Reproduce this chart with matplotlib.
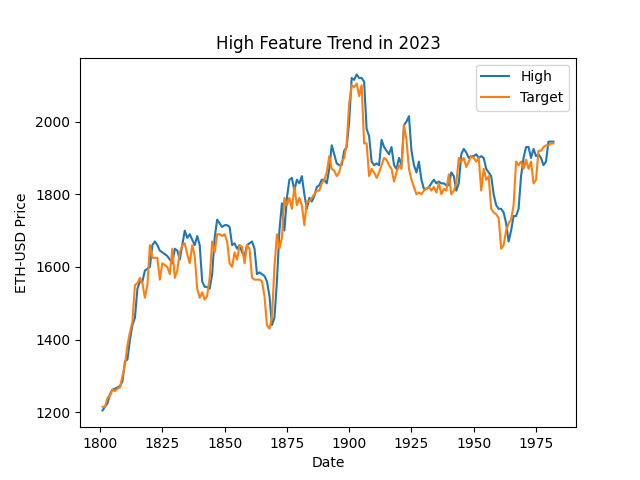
import matplotlib.pyplot as plt

start_idx = 1801

high = [1205, 1215, 1225, 1250, 1262, 1265, 1268, 1272, 1285, 1340,
        1345, 1400, 1440, 1460, 1540, 1560, 1560, 1590, 1595, 1600,
        1660, 1670, 1660, 1645, 1640, 1635, 1630, 1620, 1610, 1650,
        1645, 1620, 1660, 1700, 1680, 1690, 1675, 1660, 1685, 1660,
        1560, 1545, 1545, 1540, 1580, 1680, 1730, 1720, 1710, 1715,
        1715, 1710, 1660, 1665, 1650, 1660, 1640, 1630, 1660, 1665,
        1670, 1650, 1580, 1585, 1580, 1575, 1560, 1520, 1440, 1460,
        1560, 1700, 1775, 1700, 1790, 1840, 1845, 1810, 1840, 1830,
        1850, 1800, 1760, 1790, 1780, 1795, 1820, 1825, 1840, 1840,
        1830, 1870, 1935, 1910, 1885, 1880, 1880, 1920, 1930, 2000,
        2120, 2115, 2130, 2120, 2120, 2110, 1980, 1960, 1890, 1880,
        1885, 1880, 1950, 1930, 1920, 1910, 1930, 1880, 1870, 1900,
        1880, 1990, 2000, 2015, 1920, 1880, 1860, 1890, 1840, 1815,
        1815, 1820, 1830, 1840, 1830, 1835, 1830, 1830, 1825, 1825,
        1860, 1850, 1810, 1830, 1910, 1925, 1915, 1900, 1905, 1905,
        1910, 1900, 1905, 1900, 1870, 1860, 1850, 1800, 1770, 1760,
        1760, 1750, 1720, 1670, 1700, 1740, 1740, 1760, 1850, 1900,
        1930, 1930, 1900, 1925, 1905, 1910, 1900, 1880, 1890, 1945,
        1945, 1945]

target = [1215, 1215, 1240, 1245, 1262, 1258, 1265, 1268, 1300, 1330,
          1385, 1420, 1450, 1550, 1555, 1570, 1555, 1515, 1550, 1660,
          1625, 1625, 1625, 1565, 1610, 1605, 1600, 1580, 1650, 1570,
          1590, 1640, 1660, 1665, 1635, 1610, 1660, 1630, 1540, 1515,
          1530, 1510, 1520, 1570, 1670, 1640, 1690, 1690, 1685, 1690,
          1670, 1610, 1600, 1640, 1620, 1660, 1655, 1610, 1660, 1650,
          1570, 1565, 1565, 1565, 1560, 1520, 1440, 1430, 1460, 1600,
          1690, 1650, 1680, 1790, 1770, 1790, 1760, 1820, 1770, 1790,
          1770, 1715, 1780, 1780, 1790, 1800, 1810, 1810, 1830, 1840,
          1860, 1905, 1870, 1865, 1850, 1860, 1890, 1900, 1940, 2050,
          2100, 2095, 2105, 2070, 2100, 1940, 1940, 1850, 1870, 1860,
          1845, 1860, 1880, 1900, 1895, 1880, 1870, 1835, 1860, 1880,
          1870, 1990, 1950, 1870, 1840, 1820, 1800, 1805, 1800, 1810,
          1815, 1820, 1810, 1820, 1805, 1830, 1800, 1815, 1810, 1855,
          1800, 1810, 1830, 1900, 1890, 1900, 1875, 1890, 1905, 1900,
          1890, 1900, 1810, 1870, 1840, 1850, 1760, 1750, 1745, 1735,
          1650, 1660, 1700, 1720, 1730, 1770, 1890, 1880, 1890, 1870,
          1895, 1870, 1890, 1830, 1840, 1920, 1920, 1930, 1935, 1935,
          1940, 1940]

dates = list(range(start_idx, start_idx + len(high)))
target_dates = list(range(start_idx, start_idx + len(target)))

fig, ax = plt.subplots(figsize=(6.4, 4.8), dpi=100)
ax.plot(dates, high, label="High")
ax.plot(target_dates, target, label="Target")
ax.set_title("High Feature Trend in 2023")
ax.set_xlabel("Date")
ax.set_ylabel("ETH-USD Price")
ax.legend(loc="upper right")
fig.savefig("out.png")
